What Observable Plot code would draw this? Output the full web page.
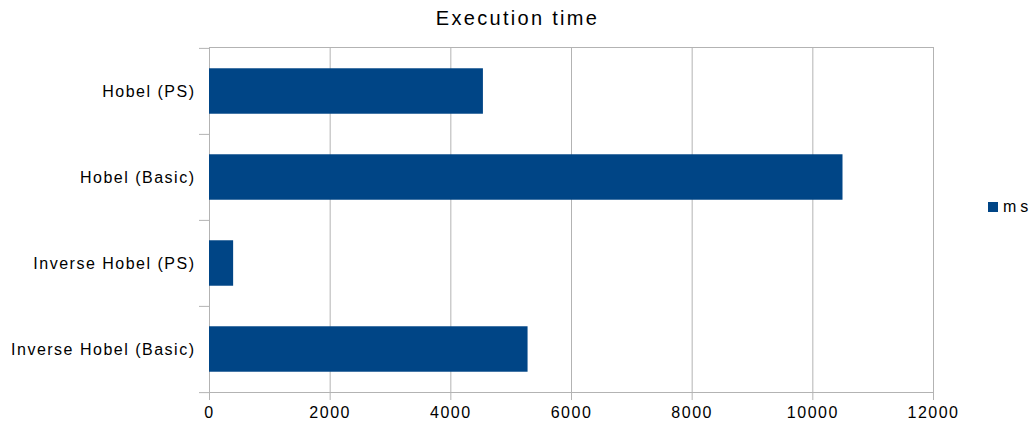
<!DOCTYPE html>
<html>
<head>
<meta charset="utf-8">
<script src="https://cdn.jsdelivr.net/npm/d3@7"></script>
<script src="https://cdn.jsdelivr.net/npm/@observablehq/plot@0.6"></script>
<style>
  body { margin: 0; background: #fff; }
  #wrap { position: relative; width: 1031px; height: 428px; font-family: "Liberation Sans", Arial, sans-serif; }
  #title { position: absolute; left: 2px; width: 1031px; top: 7px; text-align: center; font-size: 20px; letter-spacing: 2.3px; color: #000; }
  #legend { position: absolute; left: 988px; top: 198px; font-size: 16px; letter-spacing: 4px; color: #000; display: flex; align-items: center; }
  #legend .sw { width: 10px; height: 10px; background: #004586; margin-right: 5px; }
  svg { position: absolute; left: 0; top: 0; }
</style>
</head>
<body>
<div id="wrap">
  <div id="title">Execution time</div>
  <div id="legend"><span class="sw"></span><span>ms</span></div>
</div>
<script>
const categories = ["Hobel (PS)", "Hobel (Basic)", "Inverse Hobel (PS)", "Inverse Hobel (Basic)"];
const values = [4540, 10500, 400, 5280];
const seriesName = "ms";
const xTicks = [0, 2000, 4000, 6000, 8000, 10000, 12000];

const data = categories.map((c, i) => ({category: c, value: values[i]}));

const W = 1031, H = 428;
const mTop = 47, mBottom = 36, mLeft = 209, mRight = 98;
const step = (H - mTop - mBottom) / categories.length;
const inset = step * 0.235;
const grid = "#b3b3b3";

const chart = Plot.plot({
  width: W,
  height: H,
  marginTop: mTop,
  marginBottom: mBottom,
  marginLeft: mLeft,
  marginRight: mRight,
  style: {fontFamily: "'Liberation Sans', Arial, sans-serif", fontSize: "16px", letterSpacing: "1.5px", color: "#000", background: "transparent"},
  x: {domain: [0, 12000], ticks: xTicks},
  y: {domain: categories, padding: 0},
  marks: [
    Plot.gridX(xTicks, {stroke: grid, strokeOpacity: 1}),
    Plot.frame({stroke: grid}),
    Plot.barX(data, {x: "value", y: "category", fill: "#004586", insetTop: inset, insetBottom: inset}),
    Plot.axisX({ticks: xTicks, tickSize: 8, tickPadding: 6, stroke: grid, label: null, tickFormat: d => String(d), fontSize: 16}),
    Plot.axisY({tickSize: 10, tickFormat: () => "", dy: -step / 2, stroke: grid, label: null}),
    Plot.axisY([categories[categories.length - 1]], {tickSize: 10, tickFormat: () => "", dy: step / 2, stroke: grid, label: null}),
    Plot.axisY({tickSize: 0, tickPadding: 14, label: null, fontSize: 16})
  ]
});
document.getElementById("wrap").appendChild(chart);
</script>
</body>
</html>
